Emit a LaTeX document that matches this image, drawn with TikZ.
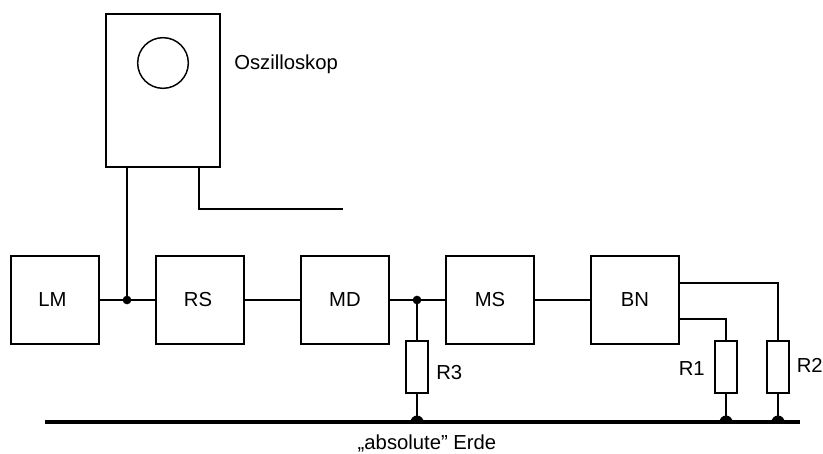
\documentclass[tikz,border=0pt]{standalone}
\usepackage{fontspec}
\setmainfont{Liberation Sans}
\usetikzlibrary{calc}
\tikzset{
  box/.style={draw=black,line width=1.5pt,minimum width=66pt,minimum height=66pt,outer sep=0pt,inner sep=0pt,font=\fontsize{15.2}{18}\selectfont},
  res/.style={draw=black,line width=1.5pt,minimum width=16.5pt,minimum height=39pt,outer sep=0pt,inner sep=0pt},
  lab/.style={inner sep=0pt,font=\fontsize{15.2}{18}\selectfont},
  wire/.style={line width=1.3pt,draw=black},
  earth/.style={line width=2.8pt,draw=black},
  dot/.style={circle,fill=black,minimum size=6.5pt,inner sep=0pt,outer sep=0pt},
}
\begin{document}
\begin{tikzpicture}[x=0.75pt,y=-0.75pt]
    \useasboundingbox (0,0) rectangle (823,453);
    % blocks along the line
    \node[box] (lm) at (55,300) {LM\kern4pt};
    \node[box] (rs) at (200,300) {RS\kern3pt};
    \node[box] (md) at (345,300) {MD};
    \node[box] (ms) at (490,300) {MS};
    \node[box] (bn) at (635,300) {BN};
    \node[res] (r3) at (417,367) {};
    \node[res] (r1) at (726,367) {};
    \node[res] (r2) at (778,367) {};
    \node[box,minimum width=85pt,minimum height=115pt] (osz) at (163,90.5) {};
    \node[draw=black,circle,line width=1.1pt,minimum size=38pt,inner sep=0pt] (screen) at (163,63) {};
    \node[dot] (ja) at (127,300) {};
    \node[dot] (jb) at (417,300) {};
    \coordinate (ea) at (45,422);
    \coordinate (eb) at (800,422);
    \coordinate (free) at (343,209);
    \node[lab,anchor=west] (oszlab) at (234,64) {Oszilloskop};
    \node[lab,anchor=west] (r3lab) at (436,373) {R3};
    \node[lab,anchor=east] (r1lab) at (705,369) {R1};
    \node[lab,anchor=east] (r2lab) at (823,365) {R2};
    \node[lab] (erdelab) at (427,443) {„absolute" Erde};
    % wires
    \draw[wire] (lm)--(rs);
    \draw[wire] (rs)--(md);
    \draw[wire] (md)--(ms);
    \draw[wire] (ms)--(bn);
    \draw[wire] (ja)--(ja |- osz.south);
    \draw[wire] (199,167)--(199,209)--(free);
    \draw[wire] (jb)--(r3);
    \draw[wire] (bn.east |- 0,319)-|(r1.north);
    \draw[wire] (bn.east |- 0,283)-|(r2.north);
    \draw[wire] (r3.south)--(r3.south |- ea);
    \draw[wire] (r1.south)--(r1.south |- ea);
    \draw[wire] (r2.south)--(r2.south |- ea);
    \draw[earth] (ea)--(eb);
    \foreach \n in {r3,r1,r2}{\fill (\n.south |- ea) ++(-6.5,0) arc (180:360:6.5 and 6.5)--cycle;}
  \end{tikzpicture}
\end{document}
